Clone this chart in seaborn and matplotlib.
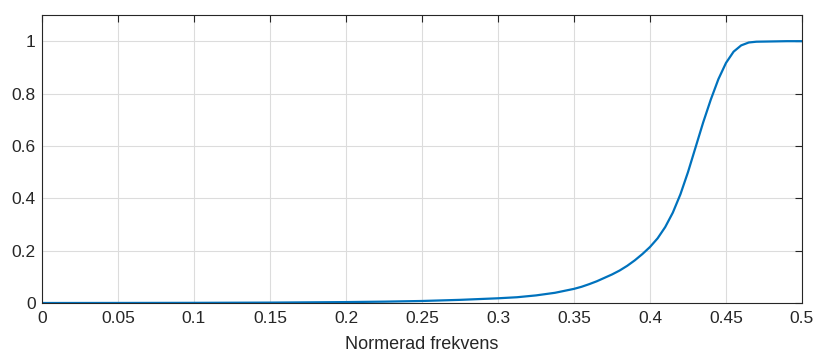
import matplotlib
matplotlib.use("Agg")
import matplotlib.pyplot as plt
import seaborn as sns
import pandas as pd

# Data
freq = [0.0, 0.05, 0.1, 0.15, 0.2, 0.225, 0.25, 0.275, 0.3, 0.3125, 0.325,
        0.3375, 0.35, 0.355, 0.36, 0.365, 0.37, 0.375, 0.38, 0.385, 0.39,
        0.395, 0.4, 0.405, 0.41, 0.415, 0.42, 0.425, 0.43, 0.435, 0.44,
        0.445, 0.45, 0.455, 0.46, 0.465, 0.47, 0.48, 0.49, 0.5]
mag = [0.0, 0.0002, 0.0006, 0.0015, 0.0035, 0.0052, 0.0077, 0.012, 0.018,
       0.022, 0.029, 0.039, 0.054, 0.062, 0.072, 0.083, 0.096, 0.109, 0.124,
       0.142, 0.163, 0.187, 0.214, 0.247, 0.29, 0.345, 0.415, 0.5, 0.595,
       0.69, 0.777, 0.855, 0.917, 0.96, 0.984, 0.995, 0.998, 0.999, 1.0, 1.0]
xticks = [0, 0.05, 0.1, 0.15, 0.2, 0.25, 0.3, 0.35, 0.4, 0.45, 0.5]
xticklabels = ["0", "0.05", "0.1", "0.15", "0.2", "0.25", "0.3", "0.35", "0.4", "0.45", "0.5"]
yticks = [0, 0.2, 0.4, 0.6, 0.8, 1.0]
yticklabels = ["0", "0.2", "0.4", "0.6", "0.8", "1"]
xlabel = "Normerad frekvens"

sns.set_style("white")
plt.rcParams["font.family"] = ["Liberation Sans", "DejaVu Sans"]

df = pd.DataFrame({"f": freq, "H": mag})

fig = plt.figure(figsize=(8.17, 3.54), dpi=100)
ax = fig.add_axes([42 / 817, 1 - 303 / 354, (802 - 42) / 817, (303 - 15) / 354])

sns.lineplot(data=df, x="f", y="H", ax=ax, color="#0072BD", linewidth=1.6)

ax.set_xlim(0, 0.5)
ax.set_ylim(0, 1.1)
ax.set_xticks(xticks)
ax.set_xticklabels(xticklabels)
ax.set_yticks(yticks)
ax.set_yticklabels(yticklabels)
ax.set_xlabel(xlabel, fontsize=13, color="#262626", labelpad=7)
ax.set_ylabel("")

ax.grid(True, color="#dcdcdc", linewidth=0.8)
ax.set_axisbelow(True)
for s in ax.spines.values():
    s.set_visible(True)
    s.set_color("#262626")
    s.set_linewidth(0.8)
ax.tick_params(axis="both", direction="in", length=5, width=0.8, colors="#262626",
               labelsize=12.5, top=True, right=True)
ax.tick_params(axis="x", pad=6)
ax.tick_params(axis="y", pad=4.5)
ax.tick_params(axis="both", labelcolor="#262626")

fig.savefig("out.png", dpi=100, facecolor="white")
